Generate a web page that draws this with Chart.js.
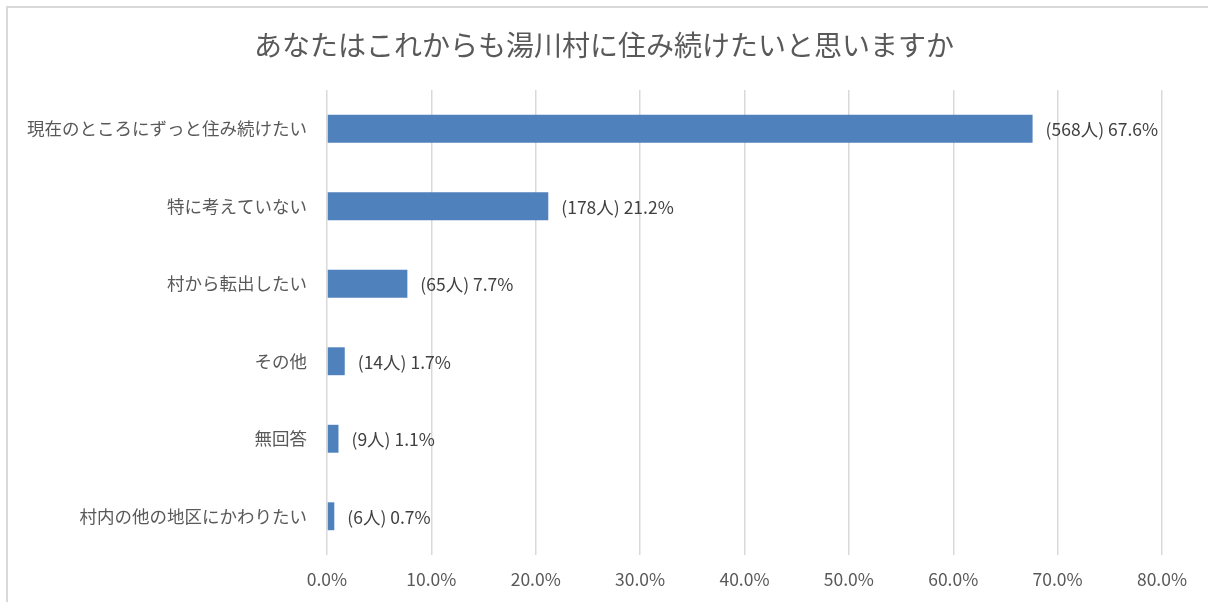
<!DOCTYPE html>
<html lang="ja">
<head>
<meta charset="utf-8">
<title>湯川村 定住意向</title>
<script src="https://cdn.jsdelivr.net/npm/chart.js@4.4.1/dist/chart.umd.min.js"></script>
<style>
  html, body { margin: 0; padding: 0; background: #fff; overflow: hidden; }
  #frame {
    position: absolute; left: 6px; top: 6px;
    width: 1400px; height: 800px;
    border: 2px solid #d9d9d9;
  }
  #wrap { position: absolute; left: 0; top: 0; width: 1208px; height: 602px; }
</style>
</head>
<body>
<div id="frame"></div>
<div id="wrap"><canvas id="chart"></canvas></div>
<script>
const TITLE = "あなたはこれからも湯川村に住み続けたいと思いますか";
const categories = [
  "現在のところにずっと住み続けたい",
  "特に考えていない",
  "村から転出したい",
  "その他",
  "無回答",
  "村内の他の地区にかわりたい"
];
const counts = [568, 178, 65, 14, 9, 6];
const percents = [67.6, 21.2, 7.7, 1.7, 1.1, 0.7];
const xTicks = [0, 10, 20, 30, 40, 50, 60, 70, 80];

const FONT = '"Noto Sans CJK JP", "Noto Sans", sans-serif';
const GREY = "#595959";

// title centred on the whole canvas (the built-in one is shifted by the right padding)
const centreTitle = {
  id: "centreTitle",
  afterDraw(chart) {
    const ctx = chart.ctx;
    ctx.save();
    ctx.font = "28px " + FONT;
    ctx.fillStyle = GREY;
    ctx.textAlign = "center";
    ctx.textBaseline = "middle";
    ctx.fillText(TITLE, chart.width / 2, 45);
    ctx.restore();
  }
};

// draw "(568人) 67.6%" beside each bar
const barLabels = {
  id: "barLabels",
  afterDatasetsDraw(chart) {
    const ctx = chart.ctx;
    const meta = chart.getDatasetMeta(0);
    ctx.save();
    ctx.font = "17.5px " + FONT;
    ctx.fillStyle = "#404040";
    ctx.textBaseline = "middle";
    ctx.textAlign = "left";
    meta.data.forEach((bar, i) => {
      const txt = `(${counts[i]}人) ${percents[i].toFixed(1)}%`;
      ctx.fillText(txt, bar.x + 13, bar.y + 1);
    });
    ctx.restore();
  }
};

new Chart(document.getElementById("chart").getContext("2d"), {
  type: "bar",
  data: {
    labels: categories,
    datasets: [{
      data: percents,
      backgroundColor: "#4f81bd",
      barPercentage: 0.36,
      categoryPercentage: 1.0
    }]
  },
  options: {
    indexAxis: "y",
    responsive: true,
    maintainAspectRatio: false,
    animation: false,
    layout: { padding: { left: 0, right: 46, top: 90, bottom: 0 } },
    plugins: {
      legend: { display: false },
      tooltip: { enabled: false },
      title: { display: false }
    },
    scales: {
      x: {
        min: 0,
        max: 80,
        afterBuildTicks(scale) {
          scale.ticks = xTicks.map(v => ({ value: v }));
        },
        afterFit(scale) { scale.height = 47; },
        grid: { color: "#d9d9d9", lineWidth: 1.5, drawTicks: false },
        border: { display: false },
        ticks: {
          color: GREY,
          padding: 14,
          font: { family: FONT, size: 17.5 },
          callback: v => v.toFixed(1) + "%"
        }
      },
      y: {
        afterFit(scale) { scale.width = 327; },
        grid: { display: false, drawTicks: false },
        border: { display: false },
        ticks: {
          color: GREY,
          padding: 20,
          font: { family: FONT, size: 17.5 }
        }
      }
    }
  },
  plugins: [barLabels, centreTitle]
});
</script>
</body>
</html>
